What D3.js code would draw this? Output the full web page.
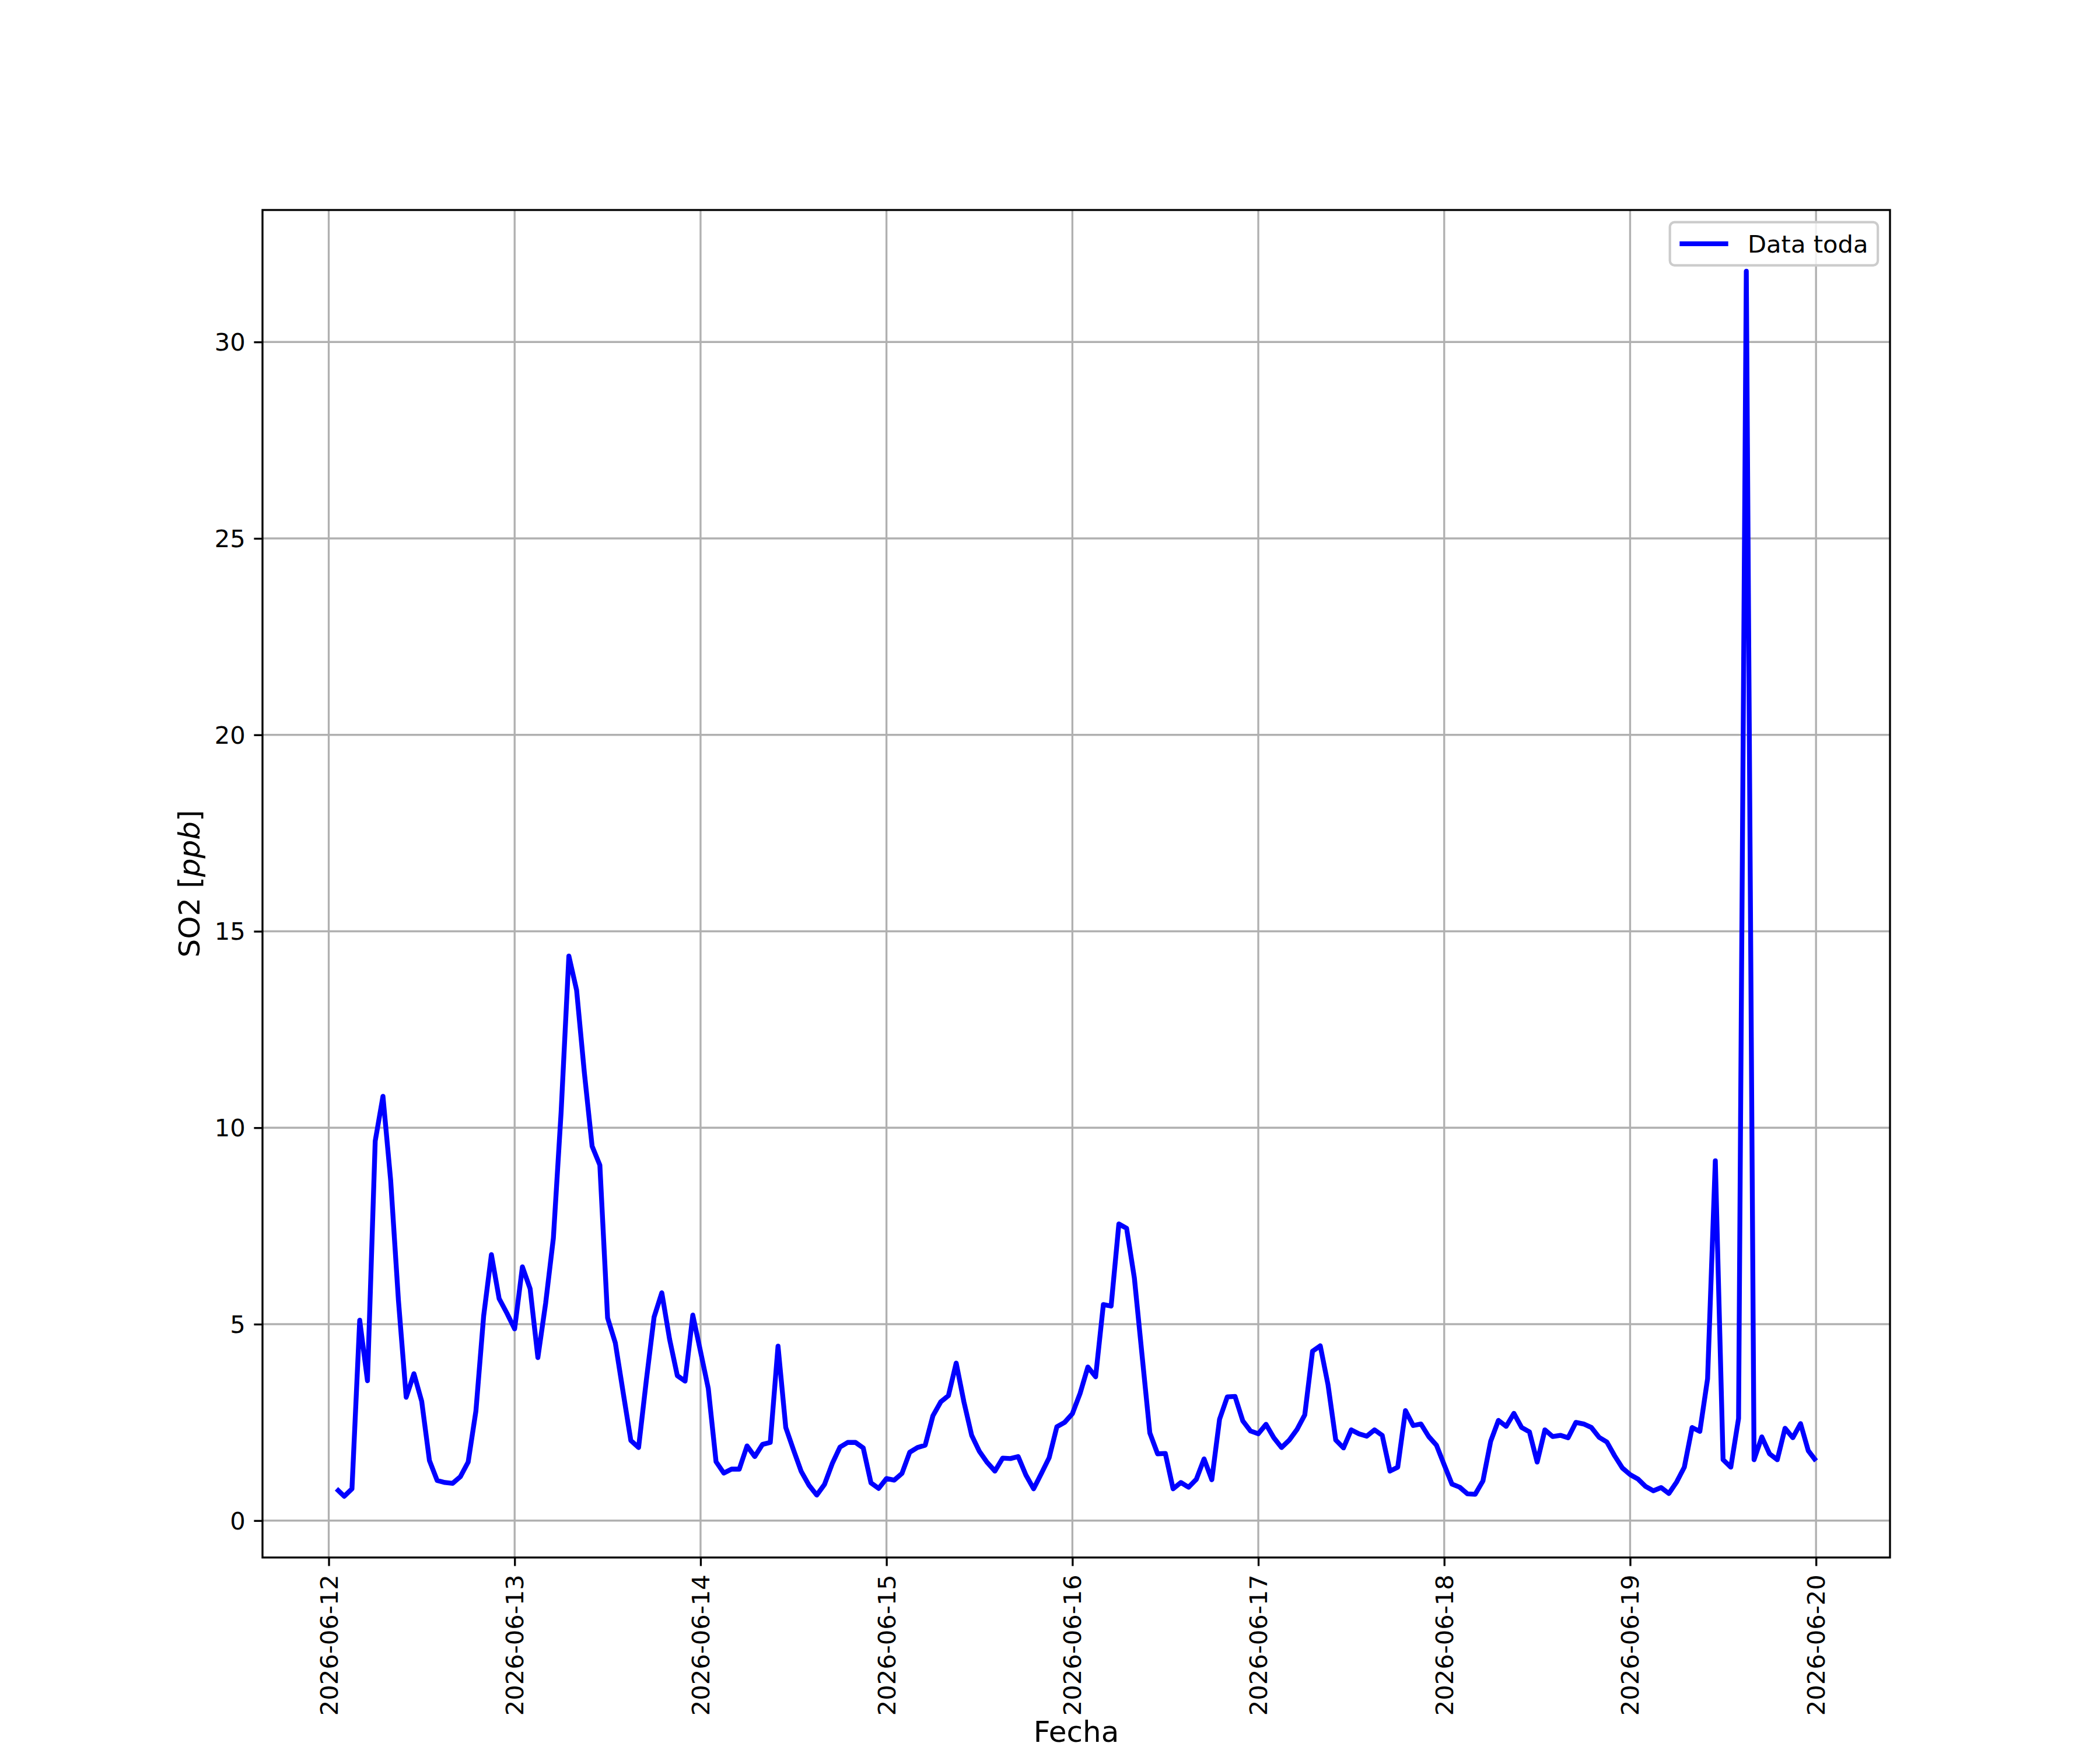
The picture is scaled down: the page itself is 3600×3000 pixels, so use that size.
<!DOCTYPE html>
<html>
<head>
<meta charset="utf-8">
<script src="https://cdn.jsdelivr.net/npm/d3@7/dist/d3.min.js"></script>
<style>
  html, body { margin: 0; padding: 0; background: #ffffff; }
  svg { display: block; }
  text { font-family: "DejaVu Sans", sans-serif; fill: #000; }
</style>
</head>
<body>
<svg id="chart" width="3600" height="3000"></svg>
<script>
// ---- data (hourly SO2, starting 2026-06-12 01:00 UTC) ----
const startTime = "2026-06-12T01:00:00Z";
const day12 = [0.81, 0.62, 0.81, 5.10, 3.56, 9.66, 10.80, 8.65, 5.60, 3.14, 3.74, 3.04, 1.53, 1.02, 0.97, 0.95, 1.12, 1.49, 2.79, 5.21, 6.77, 5.65, 5.28, 4.88];
const day13 = [6.46, 5.90, 4.15, 5.53, 7.19, 10.40, 14.37, 13.50, 11.40, 9.53, 9.05, 5.16, 4.52, 3.27, 2.04, 1.86, 3.57, 5.18, 5.80, 4.62, 3.69, 3.55, 5.23, 4.30];
const day14 = [3.36, 1.50, 1.21, 1.31, 1.31, 1.90, 1.63, 1.94, 1.99, 4.44, 2.37, 1.80, 1.25, 0.90, 0.65, 0.92, 1.45, 1.87, 1.99, 1.99, 1.85, 0.96, 0.82, 1.07];
const day15 = [1.03, 1.20, 1.74, 1.86, 1.92, 2.67, 3.02, 3.18, 4.01, 3.02, 2.17, 1.76, 1.48, 1.26, 1.59, 1.58, 1.63, 1.16, 0.81, 1.20, 1.60, 2.39, 2.50, 2.72];
const day16 = [3.24, 3.91, 3.66, 5.50, 5.46, 7.55, 7.44, 6.18, 4.20, 2.23, 1.70, 1.71, 0.81, 0.97, 0.85, 1.05, 1.57, 1.04, 2.58, 3.15, 3.16, 2.54, 2.28, 2.21];
const day17 = [2.45, 2.11, 1.86, 2.05, 2.32, 2.69, 4.31, 4.45, 3.46, 2.05, 1.85, 2.31, 2.21, 2.15, 2.31, 2.17, 1.26, 1.36, 2.80, 2.42, 2.46, 2.14, 1.92, 1.42];
const day18 = [0.93, 0.85, 0.68, 0.67, 1.01, 2.02, 2.55, 2.40, 2.73, 2.37, 2.26, 1.49, 2.31, 2.14, 2.17, 2.11, 2.50, 2.46, 2.37, 2.12, 2.00, 1.65, 1.34, 1.17];
const day19 = [1.06, 0.87, 0.76, 0.84, 0.69, 0.98, 1.36, 2.37, 2.27, 3.61, 9.16, 1.55, 1.36, 2.60, 31.80, 1.55, 2.13, 1.70, 1.55, 2.35, 2.11, 2.47, 1.78, 1.52];
const xTickLabels = ["2026-06-12","2026-06-13","2026-06-14","2026-06-15","2026-06-16","2026-06-17","2026-06-18","2026-06-19","2026-06-20"];
const yTickValues = [0, 5, 10, 15, 20, 25, 30];
const seriesName = "Data toda";
const xLabel = "Fecha";

(function () {
  // ---- build series ----
  const values = [].concat(day12, day13, day14, day15, day16, day17, day18, day19);
  const t0 = new Date(startTime).getTime();
  const series = values.map((v, i) => ({ t: new Date(t0 + i * 3600e3), v }));

  // ---- layout (matplotlib 12x10in @300dpi) ----
  const W = 3600, H = 3000;
  const pt = 300 / 72;
  const pL = 450, pR = 3240, pT = 360, pB = 2670;
  const fs = 10 * pt, fsLabel = 12 * pt;
  const tickLen = 3.5 * pt, tickPad = 3.5 * pt, lw = 0.8 * pt;

  const svg = d3.select("#chart");
  svg.append("rect").attr("width", W).attr("height", H).attr("fill", "#fff");

  // domains with 5% margins like matplotlib autoscale
  const tExt = d3.extent(series, d => d.t.getTime());
  const tPad = 0.05 * (tExt[1] - tExt[0]);
  const vExt = d3.extent(values);
  const vPad = 0.05 * (vExt[1] - vExt[0]);

  const x = d3.scaleUtc().domain([new Date(tExt[0] - tPad), new Date(tExt[1] + tPad)]).range([pL, pR]);
  const y = d3.scaleLinear().domain([vExt[0] - vPad, vExt[1] + vPad]).range([pB, pT]);

  const xTicks = xTickLabels.map(s => new Date(s + "T00:00:00Z"));

  // grid
  const grid = svg.append("g");
  grid.selectAll("line.gx").data(xTicks).enter().append("line")
    .attr("x1", d => x(d)).attr("x2", d => x(d)).attr("y1", pT).attr("y2", pB)
    .attr("stroke", "#b0b0b0").attr("stroke-width", lw);
  grid.selectAll("line.gy").data(yTickValues).enter().append("line")
    .attr("x1", pL).attr("x2", pR).attr("y1", d => y(d)).attr("y2", d => y(d))
    .attr("stroke", "#b0b0b0").attr("stroke-width", lw);

  // line
  svg.append("clipPath").attr("id", "clip").append("rect")
    .attr("x", pL).attr("y", pT).attr("width", pR - pL).attr("height", pB - pT);
  svg.append("path").datum(series)
    .attr("clip-path", "url(#clip)")
    .attr("fill", "none").attr("stroke", "#0000ff").attr("stroke-width", 2 * pt)
    .attr("stroke-linejoin", "round").attr("stroke-linecap", "butt")
    .attr("d", d3.line().x(d => x(d.t)).y(d => y(d.v)));

  // axes via d3
  const xAxis = d3.axisBottom(x).tickValues(xTicks).tickSize(tickLen).tickPadding(tickPad)
    .tickFormat((d, i) => xTickLabels[i]);
  const gx = svg.append("g").attr("transform", `translate(0,${pB})`).call(xAxis);
  gx.select(".domain").remove();
  gx.selectAll(".tick line").attr("stroke", "#000").attr("stroke-width", lw);
  gx.selectAll(".tick text")
    .attr("font-size", fs).attr("font-family", "DejaVu Sans").attr("fill", "#000")
    .attr("text-anchor", "end").attr("dy", null).attr("y", null)
    .attr("dominant-baseline", "central")
    .attr("transform", `translate(0,${tickLen + tickPad}) rotate(-90)`);

  const yAxis = d3.axisLeft(y).tickValues(yTickValues).tickSize(tickLen).tickPadding(tickPad)
    .tickFormat(d3.format("d"));
  const gy = svg.append("g").attr("transform", `translate(${pL},0)`).call(yAxis);
  gy.select(".domain").remove();
  gy.selectAll(".tick line").attr("stroke", "#000").attr("stroke-width", lw);
  gy.selectAll(".tick text")
    .attr("font-size", fs).attr("font-family", "DejaVu Sans").attr("fill", "#000")
    .attr("dy", null).attr("dominant-baseline", "central");

  // spines
  svg.append("rect").attr("x", pL).attr("y", pT).attr("width", pR - pL).attr("height", pB - pT)
    .attr("fill", "none").attr("stroke", "#000").attr("stroke-width", lw);

  // axis labels
  svg.append("text").attr("x", (pL + pR) / 2).attr("y", 2986)
    .attr("text-anchor", "middle").attr("font-size", fsLabel).text(xLabel);

  const yl = svg.append("text").attr("transform", `translate(342,${(pT + pB) / 2}) rotate(-90)`)
    .attr("text-anchor", "middle").attr("font-size", fsLabel);
  yl.append("tspan").text("SO2 [");
  yl.append("tspan").attr("font-style", "italic").text("ppb");
  yl.append("tspan").text("]");

  // legend
  const lg = svg.append("g");
  const bpad = 0.4 * fs, hLen = 2.0 * fs, hPad = 0.8 * fs, axPad = 0.5 * fs;
  const lt = lg.append("text").attr("font-size", fs).attr("dominant-baseline", "central").text(seriesName);
  const tw = lt.node().getComputedTextLength();
  const boxW = bpad + hLen + hPad + tw + bpad;
  const boxH = 74;
  const bx = pR - axPad - boxW, by = pT + axPad;
  lg.insert("rect", "text").attr("x", bx).attr("y", by).attr("width", boxW).attr("height", boxH)
    .attr("rx", 8).attr("ry", 8)
    .attr("fill", "#fff").attr("fill-opacity", 0.8).attr("stroke", "#cccccc").attr("stroke-width", 1.0 * pt);
  const cy = by + boxH / 2;
  lg.append("line").attr("x1", bx + bpad).attr("x2", bx + bpad + hLen).attr("y1", cy).attr("y2", cy)
    .attr("stroke", "#0000ff").attr("stroke-width", 2 * pt);
  lt.attr("x", bx + bpad + hLen + hPad).attr("y", cy + 1);
})();
</script>
</body>
</html>
